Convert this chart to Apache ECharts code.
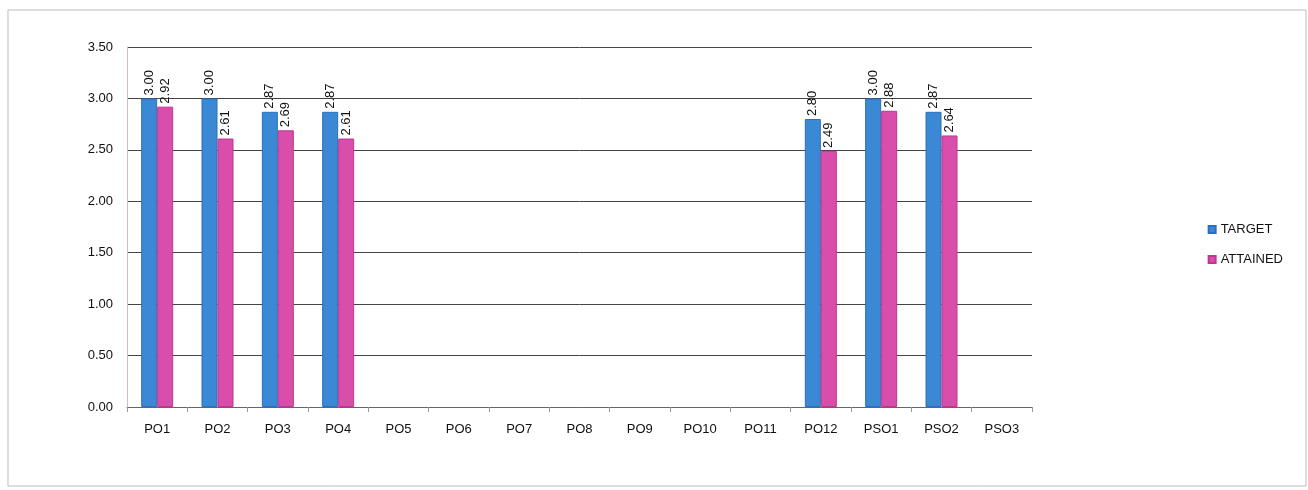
<!DOCTYPE html>
<html><head><meta charset="utf-8">
<script src="https://cdn.jsdelivr.net/npm/echarts@6/dist/echarts.min.js"></script>
<style>html,body{margin:0;padding:0;background:#fff}#c{width:1308px;height:490px}</style>
</head><body><div id="c"></div>
<script>
const categories = ['PO1','PO2','PO3','PO4','PO5','PO6','PO7','PO8','PO9','PO10','PO11','PO12','PSO1','PSO2','PSO3'];
const target = [3.00,3.00,2.87,2.87,null,null,null,null,null,null,null,2.80,3.00,2.87,null];
const attained = [2.92,2.61,2.69,2.61,null,null,null,null,null,null,null,2.49,2.88,2.64,null];
const yTicks = [0,0.5,1,1.5,2,2.5,3,3.5];

const chart = echarts.init(document.getElementById('c'));
const font = '"Liberation Sans", sans-serif';
const lbl = {
  show: true, position: 'top', rotate: 90, align: 'left', verticalAlign: 'middle',
  distance: 3, fontFamily: font, fontSize: 13, color: '#111',
  formatter: p => p.value == null ? '' : p.value.toFixed(2)
};
chart.setOption({
  animation: false,
  graphic: [{type:'rect', shape:{x:8,y:10,width:1298,height:476}, style:{fill:'none', stroke:'#bbb', lineWidth:1}}],
  legend: {
    orient: 'vertical', right: 20, top: 218, itemGap: 17, itemWidth: 7, itemHeight: 7,
    icon: 'rect', textStyle: {fontFamily: font, fontSize: 13, color: '#111'},
    data: ['TARGET','ATTAINED']
  },
  grid: {left: 127, right: 276, top: 47, bottom: 83},
  xAxis: {
    type: 'category', data: categories,
    axisLine: {lineStyle: {color: '#666'}}, axisTick: {show: true, lineStyle:{color:'#999'}},
    axisLabel: {fontFamily: font, fontSize: 13, color: '#111', margin: 16}
  },
  yAxis: {
    type: 'value', min: 0, max: 3.5, interval: 0.5,
    axisLine: {show: true, lineStyle: {color: '#d9b8cc'}},
    axisLabel: {fontFamily: font, fontSize: 13, color: '#111', formatter: v => v.toFixed(2), margin: 14},
    splitLine: {lineStyle: {color: '#444', width: 1}}
  },
  series: [
    {name: 'TARGET', type: 'bar', data: target, barWidth: 16, barGap: '0%',
     itemStyle: {color: '#3b88d4', borderColor: '#2a6fc0', borderWidth: 1}, label: lbl},
    {name: 'ATTAINED', type: 'bar', data: attained, barWidth: 16,
     itemStyle: {color: '#d84eaa', borderColor: '#c23592', borderWidth: 1}, label: lbl}
  ]
});
</script></body></html>
